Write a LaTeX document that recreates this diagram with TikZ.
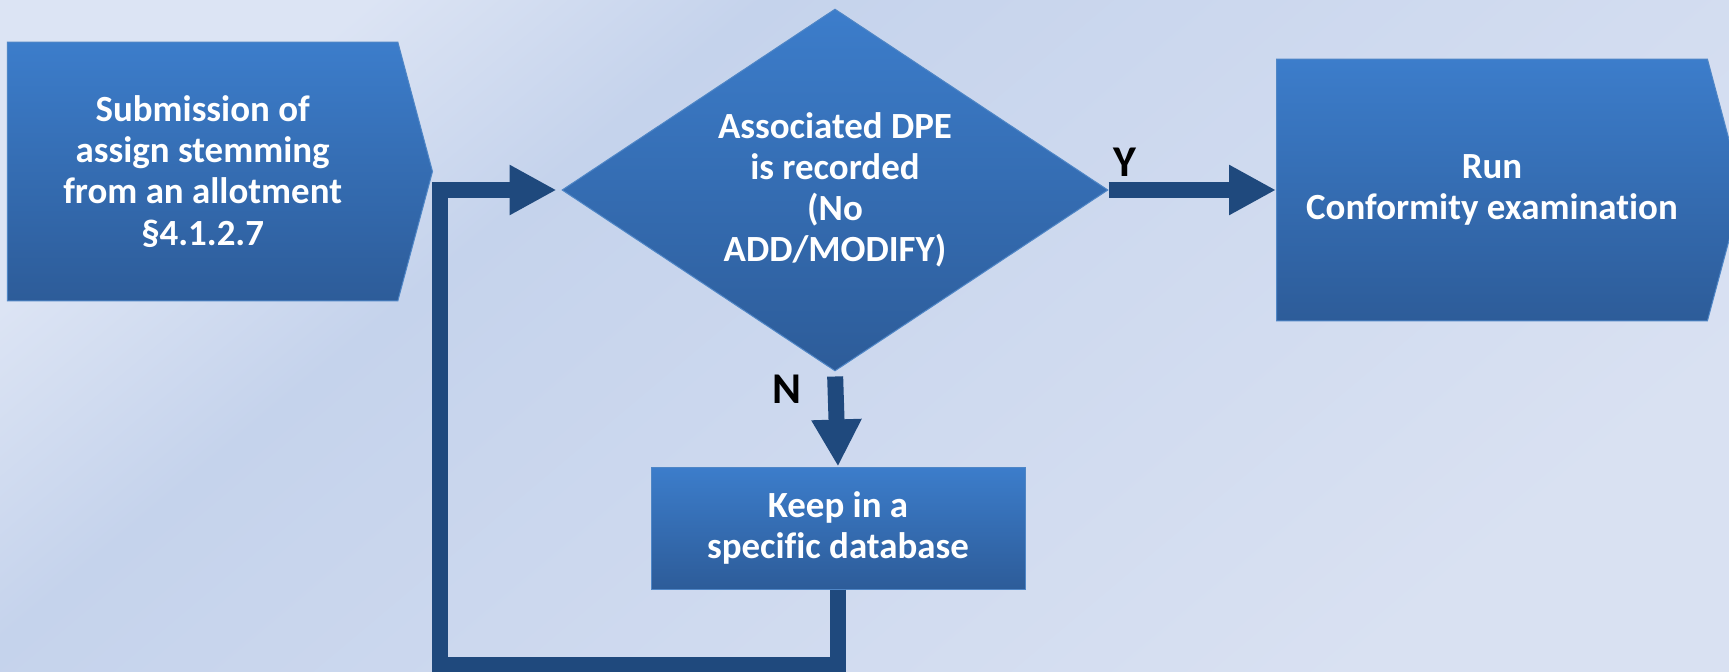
\documentclass[tikz,border=0pt]{standalone}
\usepackage{fontspec}
\setmainfont{Carlito}[Ligatures=NoCommon]
\usetikzlibrary{shapes.geometric,shapes.symbols,arrows.meta}
\definecolor{bgcorner}{HTML}{DCE4F4}
\definecolor{bgmid}{HTML}{C5D3EC}
\definecolor{bgend}{HTML}{D9E1F2}
\definecolor{boxtop}{HTML}{3C7DCB}
\definecolor{boxbot}{HTML}{2D5C99}
\definecolor{boxline}{HTML}{4F86C6}
\definecolor{flowline}{HTML}{1F497D}
\pgfdeclarehorizontalshading{pagebg}{100bp}{color(0bp)=(bgcorner); color(25bp)=(bgcorner); color(36bp)=(bgmid); color(75bp)=(bgend); color(100bp)=(bgend)}
\begin{document}
\begin{tikzpicture}[x=0.1mm, y=-0.1mm,
  box/.style={draw=boxline, line width=0.1mm, top color=boxtop, bottom color=boxbot,
    text=white, align=center, inner sep=0pt, font=\bfseries\fontsize{10.5}{11.7}\selectfont},
  pointed/.style={box, shape=signal, signal to=east, signal pointer angle=150},
  flow/.style={draw=flowline, line width=1.6mm, -{Triangle[length=4.7mm, width=4.7mm]}},
  yn/.style={font=\bfseries\fontsize{12.5}{14}\selectfont}]

  \useasboundingbox (0,0) rectangle (1729,672);
  \shade[shading=pagebg, shading angle=-50] (0,0) rectangle (1729,672);

  \node[pointed, minimum width=42.5mm, minimum height=25.9mm, anchor=west] (submit) at (7,171.5)
    {Submission of\\assign stemming\\from an allotment\\§4.1.2.7};
  \node[box, shape=diamond, aspect=1.5, minimum width=54.6mm, minimum height=36.2mm] (decide) at (835,190)
    {Associated DPE\\is recorded\\(No\\ADD/MODIFY)};
  \node[pointed, minimum width=46.6mm, minimum height=26.2mm, anchor=west] (run) at (1276,190)
    {Run\\Conformity examination};
  \node[box, minimum width=37.4mm, minimum height=12.2mm] (keep) at (838,528)
    {Keep in a\\specific database};

  \node[yn] (ylab) at (1125,162) {Y};
  \node[yn] (nlab) at (787,389) {N};

  \draw[flow] (decide.east) -- (run.west);
  \draw[flow, shorten <=0.5mm] (decide.south) -- (keep.north);

  \coordinate (loopcorner) at (440,665);
  \draw[flow, shorten >=0.5mm] (keep.south) |- (loopcorner) |- (decide.west);
\end{tikzpicture}
\end{document}
